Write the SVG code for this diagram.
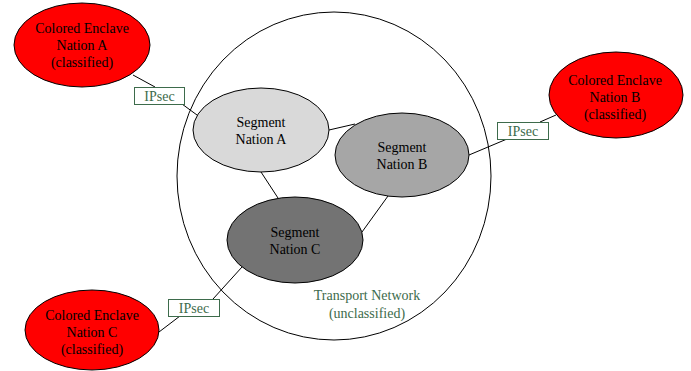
<svg xmlns="http://www.w3.org/2000/svg" width="691" height="371" viewBox="0 0 691 371">
<style>
text{font-family:"Liberation Serif","Times New Roman",serif;font-size:14px;text-anchor:middle;fill:#000}
.n{stroke:#000;stroke-width:1}
.red{fill:#ff0000}
.ip rect{fill:#fff;stroke:#3d6b4b;stroke-width:1}
.ip text,.tn{fill:#3d6b4b}
.c line{stroke:#000;stroke-width:1}
</style>
<rect width="691" height="371" fill="#fff"/>
<g id="transport">
<ellipse cx="334" cy="176" rx="157" ry="164" fill="none" stroke="#000"/>
<text class="tn" x="367" y="300">Transport Network</text>
<text class="tn" x="367" y="318">(unclassified)</text>
</g>
<g class="c" id="connectors">
<line x1="133" y1="75" x2="155" y2="87"/>
<line x1="182" y1="104" x2="197" y2="115"/>
<line x1="329" y1="130" x2="355" y2="124"/>
<line x1="261" y1="172" x2="278" y2="198"/>
<line x1="388" y1="196" x2="362" y2="232"/>
<line x1="469" y1="155" x2="507" y2="139"/>
<line x1="540" y1="122" x2="556" y2="115"/>
<line x1="159" y1="332" x2="180" y2="316"/>
<line x1="213" y1="299" x2="242" y2="267"/>
</g>
<g id="enclaveA">
<ellipse class="n red" cx="82" cy="45" rx="68" ry="42"/>
<text x="82" y="33">Colored Enclave</text>
<text x="82" y="50">Nation A</text>
<text x="82" y="67">(classified)</text>
</g>
<g id="enclaveB">
<ellipse class="n red" cx="616" cy="95" rx="67" ry="43"/>
<text x="615" y="85">Colored Enclave</text>
<text x="615" y="102">Nation B</text>
<text x="615" y="119">(classified)</text>
</g>
<g id="enclaveC">
<ellipse class="n red" cx="92" cy="330" rx="67" ry="40"/>
<text x="92" y="320">Colored Enclave</text>
<text x="92" y="337">Nation C</text>
<text x="92" y="354">(classified)</text>
</g>
<g id="segA">
<ellipse class="n" fill="#d9d9d9" cx="261" cy="130" rx="68" ry="42"/>
<text x="261" y="127">Segment</text>
<text x="261" y="144">Nation A</text>
</g>
<g id="segB">
<ellipse class="n" fill="#a6a6a6" cx="402" cy="155" rx="67" ry="42"/>
<text x="402" y="152">Segment</text>
<text x="402" y="169">Nation B</text>
</g>
<g id="segC">
<ellipse class="n" fill="#737373" cx="295" cy="240" rx="68" ry="43"/>
<text x="295" y="237">Segment</text>
<text x="295" y="254">Nation C</text>
</g>
<g class="ip" id="ipsecA">
<rect x="134.5" y="87.5" width="50" height="17"/>
<text x="159.5" y="101">IPsec</text>
</g>
<g class="ip" id="ipsecB">
<rect x="497.5" y="122.5" width="51" height="17"/>
<text x="523" y="136">IPsec</text>
</g>
<g class="ip" id="ipsecC">
<rect x="168.5" y="299.5" width="51" height="17"/>
<text x="194" y="313">IPsec</text>
</g>
</svg>
